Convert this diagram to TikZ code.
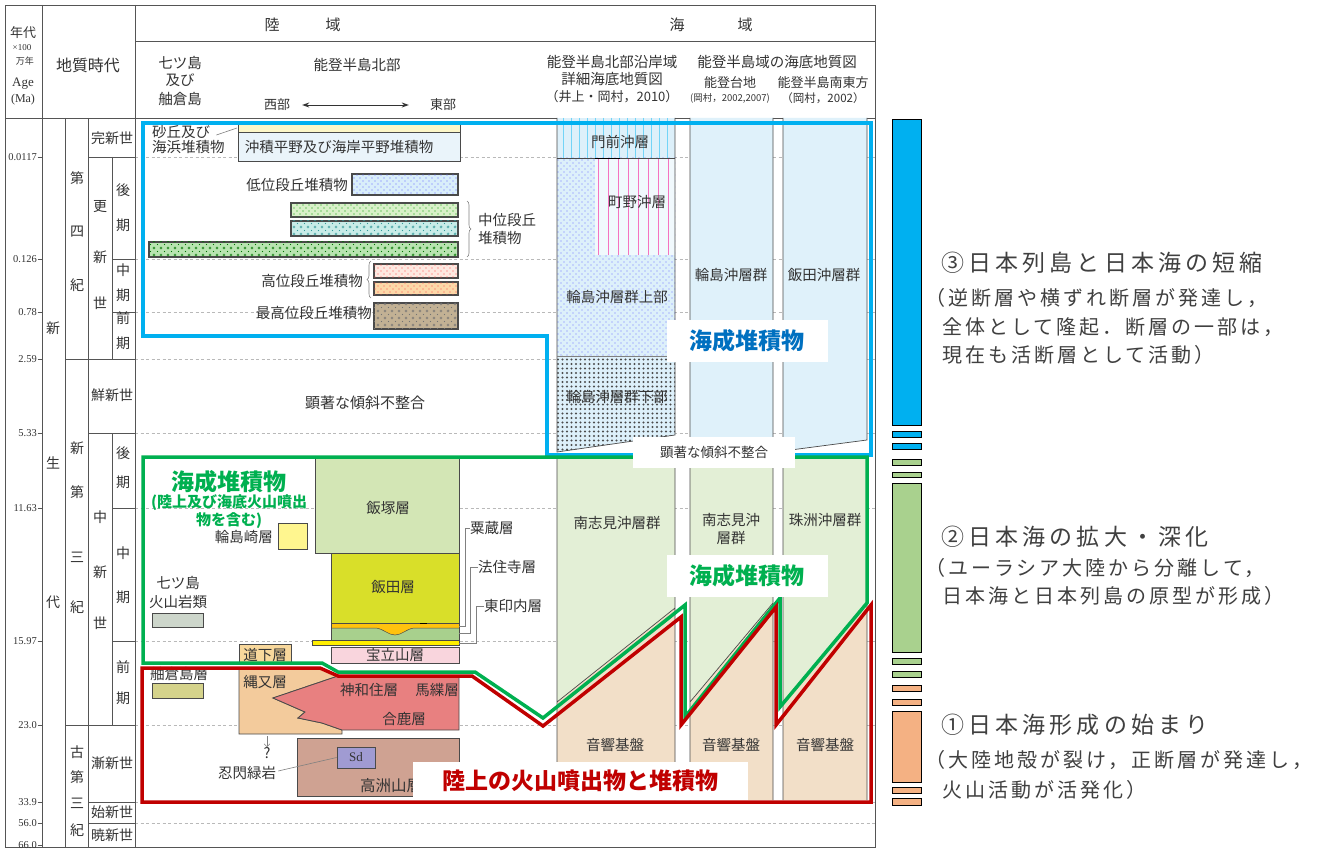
\documentclass[tikz,border=0pt]{standalone}
\usepackage{fontspec}
\setmainfont{Liberation Serif}
\newfontfamily\jp{Noto Sans CJK JP}
\newfontfamily\jpwa[LetterSpace=18]{Noto Sans CJK JP}
\newfontfamily\jpwb[LetterSpace=15]{Noto Sans CJK JP}
\usetikzlibrary{patterns.meta,decorations.pathreplacing,arrows.meta}
\definecolor{txt}{HTML}{333333}
\definecolor{tabc}{HTML}{555555}
\definecolor{ubord}{HTML}{4A4A4A}
\definecolor{bo}{HTML}{00B0F0}
\definecolor{go}{HTML}{00B050}
\definecolor{ro}{HTML}{C00000}
\definecolor{lblue}{HTML}{0070C0}
\definecolor{seaA}{HTML}{DDF0FA}
\definecolor{seaB}{HTML}{DFF1FA}
\definecolor{seaG}{HTML}{E3EFD6}
\definecolor{seaR}{HTML}{F2DFC8}
\definecolor{cSand}{HTML}{FDF7C8}
\definecolor{cAll}{HTML}{EAF4FA}
\definecolor{cLow}{HTML}{D9EEFA}
\definecolor{cMid1}{HTML}{D8F0C8}
\definecolor{cMid2}{HTML}{C8ECE8}
\definecolor{cMid3}{HTML}{B8E4B0}
\definecolor{cHi1}{HTML}{FDE8E0}
\definecolor{cHi2}{HTML}{FCD8A8}
\definecolor{cTop}{HTML}{C2B194}
\definecolor{cIizuka}{HTML}{D3E6B5}
\definecolor{cIida}{HTML}{D9DF29}
\definecolor{cAwa}{HTML}{FFC20E}
\definecolor{cHoju}{HTML}{A8D08D}
\definecolor{cTou}{HTML}{FFEE00}
\definecolor{cWaj}{HTML}{FFF68F}
\definecolor{cNana}{HTML}{CDD6CB}
\definecolor{cMichi}{HTML}{F8D89C}
\definecolor{cHoryu}{HTML}{F9D5DD}
\definecolor{cHegura}{HTML}{D5D38B}
\definecolor{cNawa}{HTML}{F3CB9C}
\definecolor{cKawa}{HTML}{E88080}
\definecolor{cKozu}{HTML}{CFA292}
\definecolor{cSd}{HTML}{A09BD2}
\definecolor{legB}{HTML}{00B0F0}
\definecolor{legG}{HTML}{A9D18E}
\definecolor{legO}{HTML}{F4B183}
\definecolor{legT}{HTML}{404040}

\tikzdeclarepattern{
  name=pdots, type=uncolored,
  bottom left={(-1pt,-1pt)}, top right={(5pt,5pt)},
  tile size={(6pt,6pt)},
  code={\pgfpathcircle{\pgfpointorigin}{0.6pt}\pgfpathcircle{\pgfpoint{3pt}{3pt}}{0.6pt}\pgfusepath{fill}}
}
\tikzdeclarepattern{
  name=prings, type=uncolored,
  bottom left={(-2pt,-2pt)}, top right={(5pt,5pt)},
  tile size={(7pt,7pt)},
  code={\pgfsetlinewidth{0.4pt}\pgfpathcircle{\pgfpointorigin}{1.2pt}\pgfusepath{stroke}\pgfpathcircle{\pgfpoint{3.5pt}{3.5pt}}{0.6pt}\pgfusepath{fill}}
}
\tikzdeclarepattern{
  name=pbig, type=uncolored,
  bottom left={(-1.5pt,-1.5pt)}, top right={(3pt,3pt)},
  tile size={(4.5pt,4.5pt)},
  code={\pgfpathcircle{\pgfpointorigin}{1.1pt}\pgfusepath{fill}}
}

\begin{document}
\begin{tikzpicture}[x=1pt,y=-1pt,
  tab/.style={draw=tabc, line width=0.8pt},
  dashln/.style={draw=gray!55, line width=0.7pt, dash pattern=on 3pt off 2.5pt},
  unit/.style={draw=ubord, line width=0.8pt},
  thick unit/.style={draw=ubord, line width=1.3pt},
  col/.style={draw=ubord, line width=0.7pt},
  pat/.style 2 args={postaction={pattern=#1, pattern color=#2}},
  lab/.style={font=\jp\fontsize{14.5pt}{15pt}\selectfont, text=txt, inner sep=0pt},
  labs/.style={font=\jp\fontsize{13pt}{14pt}\selectfont, text=txt, inner sep=0pt},
  tl/.style={font=\jp\fontsize{14pt}{15pt}\selectfont, text=txt, inner sep=0pt},
  age/.style={font=\fontsize{10.5pt}{11pt}\selectfont, text=txt, inner sep=0pt, anchor=east},
  leader/.style={draw=gray, line width=0.6pt},
  blueo/.style={draw=bo, line width=3.5pt},
  greeno/.style={draw=go, line width=3.5pt},
  redo/.style={draw=ro, line width=3.5pt},
  bigl/.style={font=\jp\bfseries\fontsize{23pt}{24pt}\selectfont, inner sep=0pt},
  wbox/.style={fill=white, inner sep=0pt},
  legbar/.style={draw=black, line width=1pt},
  legh/.style={font=\jpwa\fontsize{23pt}{25pt}\selectfont, text=legT, inner sep=0pt, anchor=west},
  legs/.style={font=\jpwb\fontsize{20pt}{22pt}\selectfont, text=legT, inner sep=0pt, anchor=west}
]
\useasboundingbox (0,0) rectangle (1323,850);
\fill[white] (0,0) rectangle (1323,850);

% dashed age lines across data area
\foreach \yy in {157,259,312,359,433,508,641,725,802,823}
  \draw[dashln] (135,\yy) -- (875,\yy);

% ---------------- table frame ----------------
\draw[tab] (5,5) rectangle (875,847);
\draw[tab] (135,41) -- (875,41);
\draw[tab] (5,118) -- (875,118);
\draw[tab] (42,5) -- (42,847);
\draw[tab] (135,5) -- (135,847);
\draw[tab] (65,118) -- (65,847);
\draw[tab] (88,118) -- (88,847);
\draw[tab] (112,157) -- (112,359);
\draw[tab] (112,433) -- (112,725);
\draw[tab] (88,157) -- (135,157);
\draw[tab] (112,259) -- (135,259);
\draw[tab] (112,312) -- (135,312);
\draw[tab] (65,359) -- (135,359);
\draw[tab] (88,433) -- (135,433);
\draw[tab] (112,508) -- (135,508);
\draw[tab] (112,641) -- (135,641);
\draw[tab] (65,725) -- (135,725);
\draw[tab] (88,802) -- (135,802);
\draw[tab] (88,823) -- (135,823);

% age ticks
\foreach \yy/\lab [count=\k] in {157/0.0117, 259/0.126, 312/0.78, 359/2.59, 433/5.33, 508/11.63, 641/15.97, 725/23.0, 802/33.9, 823/56.0, 845/66.0}{
  \draw[tab] (37.5,\yy) -- (42,\yy);
  \node[age] (age\k) at (37,\yy) {\lab};
}

% header
\node[font=\jp\fontsize{13pt}{14pt}\selectfont, text=txt] (h1) at (23,33) {年代};
\node[font=\fontsize{9pt}{10pt}\selectfont, text=txt] (h2) at (22,48) {×100};
\node[font=\jp\fontsize{9pt}{10pt}\selectfont, text=txt] (h3) at (25,61) {万年};
\node[font=\fontsize{13pt}{14pt}\selectfont, text=txt] (h4) at (23,84) {Age};
\node[font=\fontsize{12pt}{13pt}\selectfont, text=txt] (h5) at (23,100) {(Ma)};
\node[font=\jp\fontsize{16pt}{17pt}\selectfont, text=txt] (h6) at (88,65) {地質時代};
\node[tl, font=\jp\fontsize{15pt}{16pt}\selectfont] (h7) at (272,25) {陸};
\node[tl, font=\jp\fontsize{15pt}{16pt}\selectfont] (h8) at (333,25) {域};
\node[tl, font=\jp\fontsize{15pt}{16pt}\selectfont] (h9) at (677,25) {海};
\node[tl, font=\jp\fontsize{15pt}{16pt}\selectfont] (h10) at (745,25) {域};
\node[lab] (h11) at (180,63) {七ツ島};
\node[lab] (h12) at (180,80) {及び};
\node[lab] (h13) at (180,99) {舳倉島};
\node[lab] (h14) at (357,65) {能登半島北部};
\node[labs] (west) at (277,105) {西部};
\node[labs] (east) at (443,105) {東部};
\draw[{Stealth[length=7pt,width=5pt]}-{Stealth[length=7pt,width=5pt]}, line width=0.9pt, draw=txt, shorten <=12pt, shorten >=21pt] (west.east) -- (east.west);
\node[lab] (h15) at (612,62) {能登半島北部沿岸域};
\node[lab] (h16) at (612,79) {詳細海底地質図};
\node[labs] (h17) at (612,97) {（井上・岡村，2010）};
\node[lab] (h18) at (777,62) {能登半島域の海底地質図};
\node[labs] (h19) at (730,83) {能登台地};
\node[font=\jp\fontsize{9.5pt}{10pt}\selectfont, text=txt, inner sep=0pt] (h20) at (730,98) {(岡村，2002,2007)};
\node[labs] (h21) at (823,83) {能登半島南東方};
\node[font=\jp\fontsize{11.5pt}{12pt}\selectfont, text=txt, inner sep=0pt] (h22) at (823,98) {（岡村，2002）};

% geologic time labels
\node[tl] (g1) at (53,328) {新};
\node[tl] (g2) at (53,463) {生};
\node[tl] (g3) at (53,602) {代};
\node[tl] (g4) at (77,178) {第};
\node[tl] (g5) at (77,232) {四};
\node[tl] (g6) at (77,285) {紀};
\node[tl] (g7) at (77,448) {新};
\node[tl] (g8) at (77,492) {第};
\node[tl] (g9) at (77,557) {三};
\node[tl] (g10) at (77,607) {紀};
\node[tl] (g11) at (77,752) {古};
\node[tl] (g12) at (77,777) {第};
\node[tl] (g13) at (77,803) {三};
\node[tl] (g14) at (77,830) {紀};
\node[tl] (g15) at (112,138) {完新世};
\node[tl] (g16) at (100,207) {更};
\node[tl] (g17) at (100,257) {新};
\node[tl] (g18) at (100,303) {世};
\node[tl] (g19) at (123,190) {後};
\node[tl] (g20) at (123,225) {期};
\node[tl] (g21) at (123,270) {中};
\node[tl] (g22) at (123,295) {期};
\node[tl] (g23) at (123,318) {前};
\node[tl] (g24) at (123,343) {期};
\node[tl] (g25) at (112,395) {鮮新世};
\node[tl] (g26) at (100,517) {中};
\node[tl] (g27) at (100,572) {新};
\node[tl] (g28) at (100,623) {世};
\node[tl] (g29) at (123,453) {後};
\node[tl] (g30) at (123,482) {期};
\node[tl] (g31) at (123,553) {中};
\node[tl] (g32) at (123,597) {期};
\node[tl] (g33) at (123,667) {前};
\node[tl] (g34) at (123,698) {期};
\node[tl] (g35) at (112,763) {漸新世};
\node[tl] (g36) at (112,812) {始新世};
\node[tl] (g37) at (112,835) {暁新世};

% ---------------- marine columns ----------------
\fill[seaA] (557,118) rectangle (675,158);
\foreach \xx in {563,571,...,671} \draw[draw=bo!55, line width=0.6pt] (\xx,118) -- (\xx,158);
\path[fill=seaA, pat={pdots}{blue!55}] (557,158) rectangle (675,356);
\fill[seaA!40] (595,158) rectangle (675,255);
\foreach \xx in {598,608,...,668} \draw[draw=magenta!55, line width=0.7pt] (\xx,158) -- (\xx,255);
\draw[black, line width=0.9pt] (595,158) -- (620,158);
\path[fill=seaA, pat={pbig}{black!70}] (557,356) -- (675,356) -- (675,435) -- (557,452) -- cycle;
\draw[col] (557,118) -- (557,452) -- (675,435) -- (675,118);
\draw[col] (557,158) -- (595,158) (620,158) -- (675,158);
\draw[col, draw=gray] (557,356) -- (675,356);
\fill[seaB] (690,118) -- (773,118) -- (773,446) -- (690,452) -- cycle;
\draw[col] (690,118) -- (690,452) -- (773,446) -- (773,118);
\fill[seaB] (783,118) -- (867,118) -- (867,440) -- (783,451) -- cycle;
\draw[col] (783,118) -- (783,451) -- (867,440) -- (867,118);
\fill[seaG] (557,455) -- (675,455) -- (675,608) -- (557,702) -- cycle;
\fill[seaR] (557,702) -- (675,608) -- (675,800) -- (557,800) -- cycle;
\fill[seaG] (690,455) -- (773,455) -- (773,603) -- (690,702) -- cycle;
\fill[seaR] (690,702) -- (773,603) -- (773,800) -- (690,800) -- cycle;
\fill[seaG] (783,455) -- (867,455) -- (867,603) -- (783,702) -- cycle;
\fill[seaR] (783,702) -- (867,603) -- (867,800) -- (783,800) -- cycle;
\draw[col] (557,455) -- (557,800) (675,455) -- (675,800) (557,702) -- (675,608);
\draw[col] (690,455) -- (690,800) (773,455) -- (773,800) (690,702) -- (773,603);
\draw[col] (783,455) -- (783,800) (867,455) -- (867,800) (783,702) -- (867,603);

\node[lab] (m1) at (620,142) {門前沖層};
\node[lab] (m2) at (637,202) {町野沖層};
\node[lab] (m3) at (617,297) {輪島沖層群上部};
\node[lab] (m4) at (617,397) {輪島沖層群下部};
\node[lab] (m5) at (731,275) {輪島沖層群};
\node[lab] (m6) at (824,275) {飯田沖層群};
\node[lab] (m7) at (617,523) {南志見沖層群};
\node[lab] (m8) at (731,520) {南志見沖};
\node[lab] (m9) at (731,538) {層群};
\node[lab] (m10) at (825,520) {珠洲沖層群};
\node[lab] (m11) at (615,745) {音響基盤};
\node[lab] (m12) at (731,745) {音響基盤};
\node[lab] (m13) at (825,745) {音響基盤};

% ---------------- land: Quaternary ----------------
\draw[unit, fill=cSand] (238,123) rectangle (460,132);
\draw[unit, fill=cAll] (238,132) rectangle (460,161);
\node[lab] (sa) at (339,147) {沖積平野及び海岸平野堆積物};
\node[lab, anchor=west] (sb1) at (152,132) {砂丘及び};
\node[lab, anchor=west] (sb2) at (152,147) {海浜堆積物};
\coordinate (sbar) at (237,128);
\draw[leader] (sb1.east) ++(6,3) -- (sbar);
\draw[thick unit, fill=cLow, pat={pdots}{blue!60}] (352,174) rectangle (458,195);
\node[lab, anchor=east] (lo) at (348,185) {低位段丘堆積物};
\draw[thick unit, fill=cMid1, pat={pdots}{green!60!black}] (291,203) rectangle (458,217);
\draw[thick unit, fill=cMid2, pat={prings}{teal!80}] (291,221) rectangle (458,236);
\draw[thick unit, fill=cMid3, pat={prings}{green!45!black}] (149,242) rectangle (458,257);
\draw[leader, decorate, decoration={brace, amplitude=4pt}] (467,201) -- (467,257);
\node[lab, anchor=west] (mi1) at (478,220) {中位段丘};
\node[lab, anchor=west] (mi2) at (478,238) {堆積物};
\draw[thick unit, fill=cHi1, pat={pdots}{red!70}] (374,264) rectangle (458,278);
\draw[thick unit, fill=cHi2, pat={pdots}{red!70}] (374,282) rectangle (458,295);
\draw[leader, decorate, decoration={brace, amplitude=4pt}] (371,298) -- (371,261);
\node[lab, anchor=east] (hi) at (363,281) {高位段丘堆積物};
\draw[thick unit, fill=cTop, pat={prings}{black!55}] (374,303) rectangle (458,329);
\node[lab, anchor=east] (tp) at (372,313) {最高位段丘堆積物};

\node[lab, font=\jp\fontsize{15pt}{16pt}\selectfont] (unc) at (365,403) {顕著な傾斜不整合};

% ---------------- land: Neogene ----------------
\draw[unit, fill=cIizuka] (315,458) rectangle (459,553);
\draw[unit, fill=cIida] (331,553) rectangle (459,623);
\fill[cHoju] (331,628) rectangle (459,640);
\fill[cAwa] (331,623) -- (459,623) -- (459,628) -- (414,628) .. controls (406,629) and (402,635) .. (395,635) .. controls (388,635) and (384,629) .. (376,628) -- (331,628) -- cycle;
\draw[ubord, line width=0.5pt] (459,628) -- (414,628) .. controls (406,629) and (402,635) .. (395,635) .. controls (388,635) and (384,629) .. (376,628) -- (331,628);
\draw[unit] (331,623) rectangle (459,640);
\draw[black, line width=1.2pt] (420,623.5) -- (427,623.5);
\draw[unit, fill=cTou] (312,640) rectangle (459,645);
\node[lab] (iz) at (388,508) {飯塚層};
\node[lab] (id) at (393,587) {飯田層};
\node[lab, anchor=west] (aw) at (470,528) {粟蔵層};
\node[lab, anchor=west] (ho) at (478,567) {法住寺層};
\node[lab, anchor=west] (to) at (484,606) {東印内層};
\coordinate (awp) at (459,626);
\coordinate (hop) at (459,633);
\coordinate (top) at (459,643);
\draw[leader] (aw.west) -- ++(-5,0) |- (awp);
\draw[leader] (ho.west) -- ++(-8,0) |- (hop);
\draw[leader] (to.west) -- ++(-8,0) |- (top);

\draw[unit, fill=cWaj] (278,523) rectangle (307,549);
\node[lab, anchor=east] (wj) at (273,537) {輪島崎層};
\node[lab] (ns1) at (178,583) {七ツ島};
\node[lab] (ns2) at (178,602) {火山岩類};
\draw[unit, fill=cNana] (152,613) rectangle (203,627);
\draw[unit, fill=cMichi] (239,644) rectangle (291,664);
\node[lab] (mc) at (265,655) {道下層};
\draw[unit, fill=cHoryu] (331,647) rectangle (459,663);
\node[lab] (hr) at (395,655) {宝立山層};

% ---------------- land: early Miocene / Paleogene ----------------
\node[lab, anchor=west] (hg) at (150,674) {舳倉島層};
\draw[unit, fill=cHegura] (152,683) rectangle (203,698);
\draw[unit, fill=cNawa] (239,668) -- (322,668) -- (338,676) -- (273,698) -- (305,712) -- (298,718) -- (322,723) -- (342,730) -- (342,734) -- (239,734) -- cycle;
\draw[unit, fill=cKawa] (338,676) -- (459,676) -- (459,730) -- (342,730) -- (322,723) -- (298,718) -- (305,712) -- (273,698) -- cycle;
\node[lab] (nw) at (265,682) {縄又層};
\node[lab] (kw) at (369,690) {神和住層};
\node[lab] (mg) at (437,690) {馬緤層};
\node[lab] (og) at (404,719) {合鹿層};
\coordinate (qa) at (267,736);
\node[lab] (qm) at (267,753) {?};
\draw[leader, -{Straight Barb[length=3pt]}] (qa) -- (qm.north);
\draw[unit, fill=cKozu] (297,738) rectangle (459,796);
\node[lab, anchor=west, font=\jp\fontsize{15.5pt}{16pt}\selectfont] (kz) at (360,786) {高洲山層};
\node[unit, fill=cSd, minimum width=38pt, minimum height=21pt, inner sep=0pt, font=\fontsize{13pt}{14pt}\selectfont, text=txt] (sd) at (356,757.5) {Sd};
\node[lab] (os) at (247,773) {忍閃緑岩};
\draw[leader] (os.east) ++(2,-2) -- (sd.west);

% ---------------- outlines ----------------
\draw[blueo] (143,123) -- (871,123) -- (871,455) -- (547,455) -- (547,336) -- (143,336) -- cycle;
\draw[greeno] (143,457) -- (867,457) -- (867,603) -- (780,707) -- (780,598) -- (685,717) -- (685,605) -- (543,718) -- (475,672) -- (338,672) -- (322,663) -- (143,663) -- cycle;
\draw[redo] (142,668) -- (320,668) -- (338,676) -- (472,676) -- (543,726) -- (681,617) -- (681,725) -- (776,607) -- (776,725) -- (871,605) -- (871,802) -- (142,802) -- cycle;

% ---------------- big labels ----------------
\node[wbox, minimum width=161pt, minimum height=42pt] (bx1) at (747,341) {};
\node[bigl, text=lblue] (b1) at (bx1) {海成堆積物};
\node[wbox, minimum width=161pt, minimum height=42pt] (bx2) at (747,576) {};
\node[bigl, text=go] (b2) at (bx2) {海成堆積物};
\node[wbox, minimum width=335pt, minimum height=38pt] (bx3) at (580,781) {};
\node[bigl, text=ro] (b3) at (bx3) {陸上の火山噴出物と堆積物};
\node[wbox, minimum width=162pt, minimum height=31pt] (bx4) at (714,452) {};
\node[font=\jp\fontsize{13.5pt}{14pt}\selectfont, text=txt, inner sep=0pt] (b4) at (bx4) {顕著な傾斜不整合};
\node[bigl, text=go] (g1t) at (229,482) {海成堆積物};
\node[font=\jp\bfseries\fontsize{15pt}{16pt}\selectfont, text=go, inner sep=0pt] (g2t) at (229,503) {(陸上及び海底火山噴出};
\node[font=\jp\bfseries\fontsize{15pt}{16pt}\selectfont, text=go, inner sep=0pt] (g3t) at (229,521) {物を含む)};

% ---------------- legend bars ----------------
\draw[legbar, fill=legB] (892,120) rectangle (921,425);
\foreach \a/\b in {431/437, 443/449} \draw[legbar, fill=legB] (892,\a) rectangle (921,\b);
\foreach \a/\b in {459/465, 472/477, 658/664, 671/677} \draw[legbar, fill=legG] (892,\a) rectangle (921,\b);
\draw[legbar, fill=legG] (892,483) rectangle (921,652);
\foreach \a/\b in {685/691, 699/705, 787/793, 798/805} \draw[legbar, fill=legO] (892,\a) rectangle (921,\b);
\draw[legbar, fill=legO] (892,711) rectangle (921,782);

% ---------------- legend texts ----------------
\node[legh] (L1) at (941,263) {③日本列島と日本海の短縮};
\node[legs] (L2) at (925,298) {（逆断層や横ずれ断層が発達し，};
\node[legs] (L3) at (942,327) {全体として隆起．断層の一部は，};
\node[legs] (L4) at (942,355) {現在も活断層として活動）};
\node[legh] (L5) at (941,537) {②日本海の拡大・深化};
\node[legs] (L6) at (925,568) {（ユーラシア大陸から分離して，};
\node[legs] (L7) at (942,596) {日本海と日本列島の原型が形成）};
\node[legh] (L8) at (941,725) {①日本海形成の始まり};
\node[legs] (L9) at (925,760) {（大陸地殻が裂け，正断層が発達し，};
\node[legs] (L10) at (942,790) {火山活動が活発化）};
\end{tikzpicture}
\end{document}
